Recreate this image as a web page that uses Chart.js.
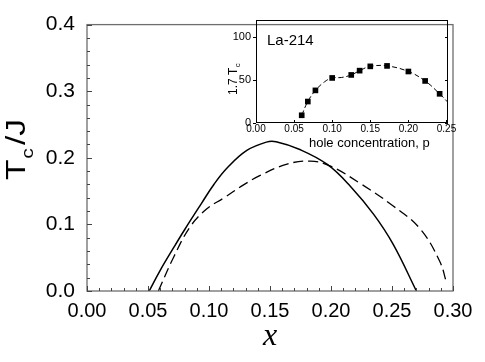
<!DOCTYPE html>
<html><head><meta charset="utf-8">
<script src="https://cdn.jsdelivr.net/npm/chart.js@4/dist/chart.umd.min.js"></script>
<style>
html,body{margin:0;padding:0;background:#fff;}
#wrap{position:relative;width:485px;height:362px;overflow:hidden;}
#main{position:absolute;left:0;top:0;}
#inset{position:absolute;left:200px;top:8px;}
</style></head><body>
<div id="wrap"><canvas id="main" width="485" height="362"></canvas><canvas id="inset" width="260" height="150"></canvas></div>
<script>
// ---- main chart data ----
const solidX = [0.051, 0.060, 0.071, 0.080, 0.094, 0.104, 0.115, 0.131, 0.147, 0.155, 0.175, 0.197, 0.216, 0.235, 0.251, 0.270];
const solidY = [0.000, 0.031, 0.065, 0.092, 0.132, 0.160, 0.185, 0.211, 0.2235, 0.224, 0.212, 0.190, 0.157, 0.115, 0.070, 0.000];
const dashX = [0.0585, 0.0708, 0.0844, 0.098, 0.112, 0.128, 0.142, 0.164, 0.183, 0.199, 0.224, 0.251, 0.273, 0.289, 0.2948];
const dashY = [0.000, 0.050, 0.096, 0.123, 0.1396, 0.159, 0.1735, 0.1905, 0.195, 0.188, 0.1615, 0.1276, 0.0935, 0.045, 0.012];
const xTicks = [0, 0.05, 0.10, 0.15, 0.20, 0.25, 0.30];
const yTicks = [0, 0.1, 0.2, 0.3, 0.4];
const xMinorStep = 0.01;
const yMinorStep = 0.02;

// ---- inset data (La-214) ----
const insetP  = [0.060, 0.068, 0.078, 0.100, 0.125, 0.136, 0.150, 0.172, 0.200, 0.222, 0.241];
const insetTc = [9, 25, 38, 52.5, 56, 61, 66, 66.5, 60, 49, 34];
const insetCurveP  = [0.060, 0.068, 0.078, 0.090, 0.100, 0.112, 0.125, 0.136, 0.150, 0.172, 0.200, 0.222, 0.241, 0.252];
const insetCurveTc = [9, 25, 38, 48, 52.5, 53, 56, 61, 66, 66.5, 60, 49, 34, 24];
const insetXTicks = [0, 0.05, 0.10, 0.15, 0.20, 0.25];
const insetYTicks = [0, 50, 100];

const SANS = "'Liberation Sans', Arial, Helvetica, sans-serif";
const pts = (xs, ys) => xs.map((x, i) => ({x, y: ys[i]}));

const mainDeco = {
  id: 'mainDeco',
  afterDatasetsDraw(chart) {
    const {ctx, chartArea: a, scales: {x, y}} = chart;
    ctx.save();
    ctx.strokeStyle = '#6e6e6e';
    ctx.lineWidth = 1.3;
    ctx.strokeRect(a.left, a.top, a.right - a.left, a.bottom - a.top);
    ctx.strokeStyle = '#444';
    ctx.lineWidth = 1;
    ctx.beginPath();
    const nx = Math.round((x.max - x.min) / xMinorStep);
    for (let i = 0; i <= nx; i++) {
      const v = x.min + i * xMinorStep;
      const px = Math.round(x.getPixelForValue(v)) + 0.5;
      const len = (i % 5 === 0) ? 5 : 3;
      ctx.moveTo(px, a.bottom); ctx.lineTo(px, a.bottom - len);
    }
    const ny = Math.round((y.max - y.min) / yMinorStep);
    for (let i = 0; i <= ny; i++) {
      const v = y.min + i * yMinorStep;
      const py = Math.round(y.getPixelForValue(v)) + 0.5;
      const len = (i % 5 === 0) ? 5 : 3;
      ctx.moveTo(a.left, py); ctx.lineTo(a.left + len, py);
    }
    ctx.stroke();
    // y-axis title: T_c /J (rotated, with subscript)
    ctx.fillStyle = '#000';
    ctx.translate(25, 180);
    ctx.rotate(-Math.PI / 2);
    ctx.scale(1.25, 1);
    ctx.textBaseline = 'alphabetic';
    ctx.textAlign = 'left';
    ctx.font = '27px ' + SANS;
    ctx.fillText('T', 0, 0);
    let w = ctx.measureText('T').width;
    ctx.font = '17px ' + SANS;
    ctx.fillText('c', w + 0.5, 8);
    w += ctx.measureText('c').width + 3;
    ctx.font = '27px ' + SANS;
    ctx.fillText('/J', w, 0);
    ctx.restore();
  }
};

new Chart(document.getElementById('main'), {
  type: 'line',
  data: {
    datasets: [
      { data: pts(solidX, solidY), borderColor: '#000', borderWidth: 1.5, pointRadius: 0, fill: false, tension: 0.4 },
      { data: pts(dashX, dashY), borderColor: '#000', borderWidth: 1.3, borderDash: [10, 5], pointRadius: 0, fill: false, tension: 0.4 }
    ]
  },
  options: {
    responsive: false, animation: false, devicePixelRatio: 1,
    layout: { padding: { top: 16, right: 32, left: 0, bottom: 0 } },
    plugins: { legend: { display: false }, tooltip: { enabled: false } },
    scales: {
      x: {
        type: 'linear', min: 0, max: 0.3,
        afterBuildTicks: s => { s.ticks = xTicks.map(v => ({value: v})); },
        afterFit: s => { s.height = 71; },
        grid: { display: true, drawOnChartArea: false, drawTicks: false },
        border: { display: false },
        ticks: { color: '#000', padding: 8, font: { family: SANS, size: 20 }, maxRotation: 0, callback: v => v.toFixed(2) },
        title: { display: true, text: 'x', color: '#000', font: { family: "'Liberation Serif', 'Times New Roman', serif", size: 32, style: 'italic' }, padding: { top: 0, bottom: 6 } }
      },
      y: {
        type: 'linear', min: 0, max: 0.4,
        afterBuildTicks: s => { s.ticks = yTicks.map(v => ({value: v})); },
        afterFit: s => { s.width = 87; },
        grid: { display: true, drawOnChartArea: false, drawTicks: false },
        border: { display: false },
        ticks: { color: '#000', padding: 12, font: { family: SANS, size: 21 }, callback: v => v.toFixed(1) }
      }
    }
  },
  plugins: [mainDeco]
});

const insetDeco = {
  id: 'insetDeco',
  afterDatasetsDraw(chart) {
    const {ctx, chartArea: a, scales: {x, y}} = chart;
    ctx.save();
    ctx.strokeStyle = '#000';
    ctx.lineWidth = 1;
    ctx.strokeRect(a.left + 0.5, a.top + 0.5, a.right - a.left - 1, a.bottom - a.top - 1);
    ctx.beginPath();
    insetXTicks.forEach(v => {
      const px = Math.round(x.getPixelForValue(v)) + 0.5;
      ctx.moveTo(px, a.bottom); ctx.lineTo(px, a.bottom - 3);
    });
    insetYTicks.forEach(v => {
      const py = Math.round(y.getPixelForValue(v)) + 0.5;
      ctx.moveTo(a.left - 3, py); ctx.lineTo(a.left, py);
      ctx.moveTo(a.right, py); ctx.lineTo(a.right - 3, py);
    });
    ctx.stroke();
    ctx.fillStyle = '#000';
    ctx.textAlign = 'left';
    ctx.textBaseline = 'alphabetic';
    ctx.font = '15px ' + SANS;
    ctx.fillText('La-214', 67, 37);
    // x title
    ctx.font = '13px ' + SANS;
    ctx.fillText('hole concentration, p', 109, 138.5);
    // y title: 1.7 T_c rotated
    ctx.translate(37, 87);
    ctx.rotate(-Math.PI / 2);
    ctx.font = '12px ' + SANS;
    ctx.fillText('1.7 T', 0, 0);
    const w = ctx.measureText('1.7 T').width;
    ctx.font = '8px ' + SANS;
    ctx.fillText('c', w + 0.5, 2.5);
    ctx.restore();
  }
};

new Chart(document.getElementById('inset'), {
  type: 'line',
  data: {
    datasets: [
      { data: pts(insetCurveP, insetCurveTc), borderColor: '#000', borderWidth: 1, borderDash: [5, 3], pointRadius: 0, fill: false, tension: 0.4 },
      { data: pts(insetP, insetTc), showLine: false, pointStyle: 'rect', pointRadius: 4, backgroundColor: '#000', borderColor: '#000', borderWidth: 0 }
    ]
  },
  options: {
    responsive: false, animation: false, devicePixelRatio: 1,
    layout: { padding: { top: 12, right: 12, left: 0, bottom: 0 } },
    plugins: { legend: { display: false }, tooltip: { enabled: false } },
    scales: {
      x: {
        type: 'linear', min: 0, max: 0.252,
        afterBuildTicks: s => { s.ticks = insetXTicks.map(v => ({value: v})); },
        afterFit: s => { s.height = 35; },
        grid: { display: true, drawOnChartArea: false, drawTicks: false },
        border: { display: false },
        ticks: { color: '#000', padding: 0, font: { family: SANS, size: 10 }, maxRotation: 0, callback: v => v.toFixed(2) }
      },
      y: {
        type: 'linear', min: 0, max: 120,
        afterBuildTicks: s => { s.ticks = insetYTicks.map(v => ({value: v})); },
        afterFit: s => { s.width = 56; },
        grid: { display: true, drawOnChartArea: false, drawTicks: false },
        border: { display: false },
        ticks: { color: '#000', padding: 5, font: { family: SANS, size: 11 } }
      }
    }
  },
  plugins: [insetDeco]
});
</script>
</body></html>
